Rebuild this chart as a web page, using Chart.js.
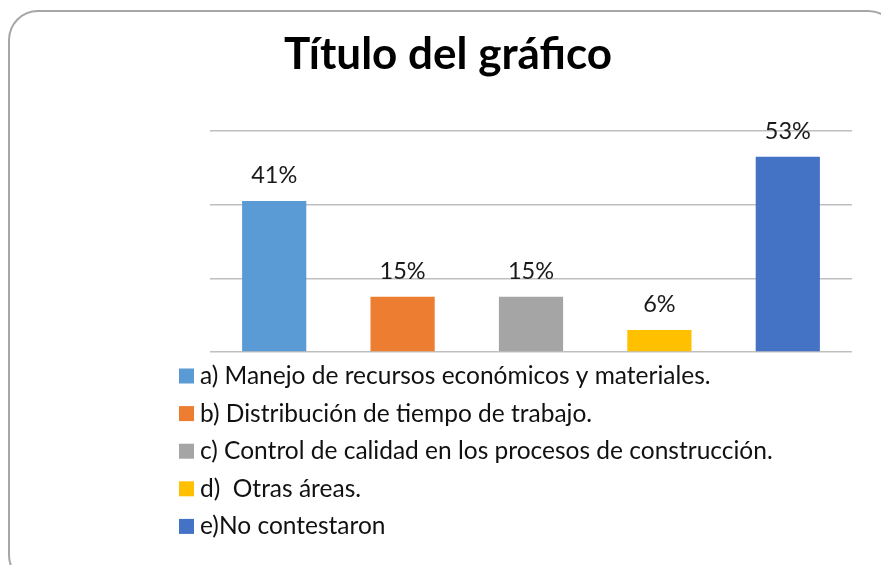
<!DOCTYPE html>
<html>
<head>
<meta charset="utf-8">
<script src="https://cdn.jsdelivr.net/npm/chart.js@4/dist/chart.umd.min.js"></script>
<style>
  html, body { margin: 0; padding: 0; background: #fff; overflow: hidden; }
  #wrap { position: relative; width: 881px; height: 565px; }
  #frame {
    position: absolute; left: 8px; top: 10px; width: 890px; height: 575px;
    border: 2px solid #a6a6a6; border-radius: 30px; box-sizing: border-box;
  }
  canvas { position: absolute; left: 0; top: 0; }
</style>
</head>
<body>
<div id="wrap">
  <div id="frame"></div>
  <canvas id="myChart" width="881" height="565"></canvas>
</div>
<script>
const titleText = "Título del gráfico";
const seriesNames = [
  "a) Manejo de recursos económicos y materiales.",
  "b) Distribución de tiempo de trabajo.",
  "c) Control de calidad en los procesos de construcción.",
  "d)  Otras áreas.",
  "e)No contestaron"
];
const seriesValues = [41, 15, 15, 6, 53];
const seriesColors = ["#5b9bd5", "#ed7d31", "#a5a5a5", "#ffc000", "#4472c4"];
const yTicks = [0, 20, 40, 60];

const FONT = "Lato, Calibri, 'Open Sans', sans-serif";

// title centred on the whole frame, not just the plot
const frameTitle = {
  id: "frameTitle",
  afterDraw(chart) {
    const c = chart.ctx;
    c.save();
    c.font = "bold 44px " + FONT;
    c.fillStyle = "#000";
    c.textAlign = "center";
    c.textBaseline = "alphabetic";
    c.fillText(titleText, 448, 69);
    c.restore();
  },
};

// value labels above each bar
const valueLabels = {
  id: "valueLabels",
  afterDatasetsDraw(chart) {
    const c = chart.ctx;
    c.save();
    c.font = "23.5px " + FONT;
    c.fillStyle = "#1a1a1a";
    c.textAlign = "center";
    c.textBaseline = "alphabetic";
    chart.data.datasets.forEach((ds, i) => {
      const bar = chart.getDatasetMeta(i).data[0];
      c.fillText(ds.data[0] + "%", bar.x, bar.y - 18);
    });
    c.restore();
  },
};

// vertical legend under the plot
const listLegend = {
  id: "listLegend",
  afterDraw(chart) {
    const c = chart.ctx;
    const left = chart.chartArea.left - 31;
    const top = chart.chartArea.bottom + 24;
    c.save();
    c.font = "24.5px " + FONT;
    c.textBaseline = "alphabetic";
    c.textAlign = "left";
    chart.data.datasets.forEach((ds, i) => {
      const y = top + i * 37.6;
      c.fillStyle = ds.backgroundColor;
      c.fillRect(left, y - 7.5, 15, 15);
      c.fillStyle = "#111";
      c.fillText(ds.label, left + 21, y + 8);
    });
    c.restore();
  },
};

const ctx = document.getElementById("myChart").getContext("2d");

const data = {
  labels: [""],
  datasets: seriesNames.map((name, i) => ({
    label: name,
    data: [seriesValues[i]],
    backgroundColor: seriesColors[i],
    barPercentage: 0.5,
    categoryPercentage: 1.0,
  })),
};

const config = {
  type: "bar",
  data: data,
  options: {
    responsive: false,
    animation: false,
    layout: {
      padding: { left: 210, right: 29, top: 131, bottom: 213 },
    },
    plugins: {
      legend: { display: false },
      tooltip: { enabled: false },
      title: { display: false },
    },
    scales: {
      x: { display: false },
      y: {
        min: 0,
        max: 60,
        afterBuildTicks: (scale) => {
          scale.ticks = yTicks.map((v) => ({ value: v }));
        },
        afterFit: (scale) => { scale.width = 0; },
        ticks: { display: false },
        border: { display: false },
        grid: { color: "#bfbfbf", lineWidth: 1.5, drawTicks: false },
      },
    },
  },
  plugins: [valueLabels, listLegend, frameTitle],
};

const myChart = new Chart(ctx, config);
</script>
</body>
</html>
